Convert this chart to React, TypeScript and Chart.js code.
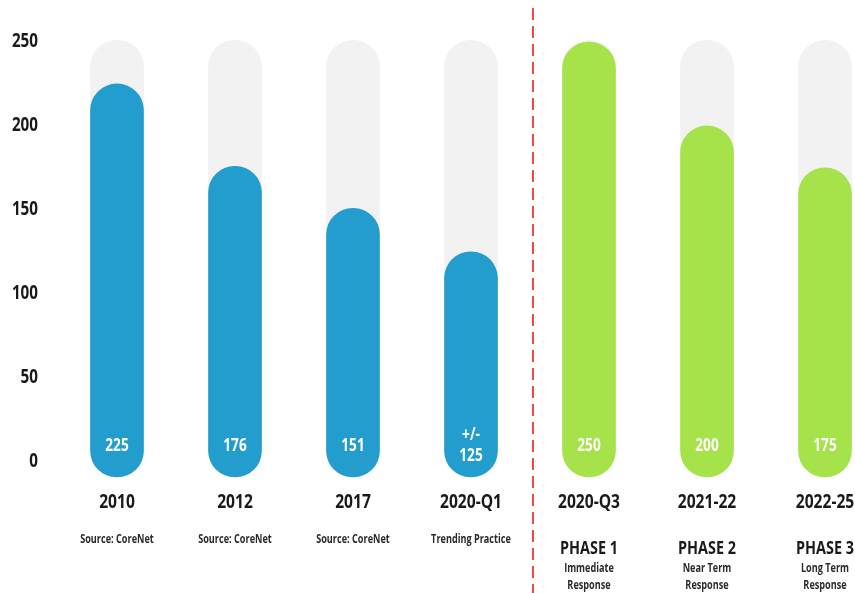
import React, { useEffect, useRef } from "react";
import { Chart, registerables } from "chart.js";

Chart.register(...registerables);

const categories = ["2010", "2012", "2017", "2020-Q1", "2020-Q3", "2021-22", "2022-25"];
const values = [225, 176, 151, 125, 250, 200, 175];
const valueLabels = [["225"], ["176"], ["151"], ["+/-", "125"], ["250"], ["200"], ["175"]];
const trackValues = [251, 251, 251, 251, 251, 251, 251];
const phaseLabels = ["", "", "", "", "PHASE 1", "PHASE 2", "PHASE 3"];
const noteLabels = [
  ["Source: CoreNet"],
  ["Source: CoreNet"],
  ["Source: CoreNet"],
  ["Trending Practice"],
  ["Immediate", "Response"],
  ["Near Term", "Response"],
  ["Long Term", "Response"],
];
const barColors = ["#229DCE", "#229DCE", "#229DCE", "#229DCE", "#A6E34B", "#A6E34B", "#A6E34B"];
const yTicks = [0, 50, 100, 150, 200, 250];

const FONT = "'Open Sans', 'Noto Sans', sans-serif";

function drawText(
  ctx: CanvasRenderingContext2D,
  text: string,
  x: number,
  y: number,
  size: number,
  color: string,
  align: CanvasTextAlign = "center",
  sx = 0.8
) {
  ctx.save();
  ctx.translate(x, y);
  ctx.scale(sx, 1);
  ctx.font = `bold ${size}px ${FONT}`;
  ctx.fillStyle = color;
  ctx.textAlign = align;
  ctx.textBaseline = "middle";
  ctx.fillText(text, 0, 0);
  ctx.restore();
}

const labelsPlugin = {
  id: "labelsPlugin",
  afterDatasetsDraw(chart: any) {
    const { ctx, scales, chartArea } = chart;
    const x = scales.x;
    const y = scales.y;
    const bottom = chartArea.bottom;
    yTicks.forEach((v) => {
      drawText(ctx, String(v), 38, y.getPixelForValue(v), 19, "#1a1a1a", "right");
    });
    categories.forEach((cat, i) => {
      const px = x.getPixelForValue(i);
      const vl = valueLabels[i];
      const centre = bottom - 31;
      const lh = 21;
      vl.forEach((t, k) => {
        drawText(ctx, t, px, centre + (k - (vl.length - 1) / 2) * lh, 17, "#ffffff");
      });
      drawText(ctx, cat, px, bottom + 25, 19.5, "#1a1a1a");
      if (phaseLabels[i]) {
        drawText(ctx, phaseLabels[i], px, bottom + 72, 18, "#1a1a1a");
        noteLabels[i].forEach((t, k) =>
          drawText(ctx, t, px, bottom + 92 + k * 16.5, 12, "#2a2a2a", "center", 0.76)
        );
      } else {
        noteLabels[i].forEach((t, k) =>
          drawText(ctx, t, px, bottom + 63 + k * 16.5, 12, "#2a2a2a", "center", 0.76)
        );
      }
    });
    const dx = (x.getPixelForValue(3) + x.getPixelForValue(4)) / 2 + 3;
    ctx.save();
    ctx.strokeStyle = "#F24A4A";
    ctx.lineWidth = 2;
    ctx.setLineDash([12, 6]);
    ctx.beginPath();
    ctx.moveTo(dx, 8);
    ctx.lineTo(dx, chart.height);
    ctx.stroke();
    ctx.restore();
  },
};

export default function App() {
  const ref = useRef<HTMLCanvasElement | null>(null);
  useEffect(() => {
    document.body.style.margin = "0";
    document.body.style.overflow = "hidden";
    if (!ref.current) return;
    const chart = new Chart(ref.current, {
      type: "bar",
      data: {
        labels: categories,
        datasets: [
          {
            data: values,
            backgroundColor: barColors,
            borderRadius: 27,
            borderSkipped: false,
            barThickness: 53,
            base: -9,
            grouped: false,
            order: 0,
            clip: false,
          } as any,
          {
            data: trackValues,
            backgroundColor: "#F2F2F2",
            borderRadius: 27,
            borderSkipped: false,
            barThickness: 53,
            base: -9,
            grouped: false,
            order: 1,
            clip: false,
          } as any,
        ],
      },
      options: {
        animation: false,
        responsive: true,
        maintainAspectRatio: false,
        layout: { padding: { top: 38.6, bottom: 116, right: 30, left: 117 } },
        plugins: { legend: { display: false }, tooltip: { enabled: false } },
        scales: {
          x: {
            display: false,
            offset: false,
          },
          y: {
            display: false,
            min: -9,
            max: 252,
          },
        },
      },
      plugins: [labelsPlugin],
    });
    return () => chart.destroy();
  }, []);
  return (
    <div style={{ position: "relative", width: 855, height: 593 }}>
      <canvas ref={ref} />
    </div>
  );
}
